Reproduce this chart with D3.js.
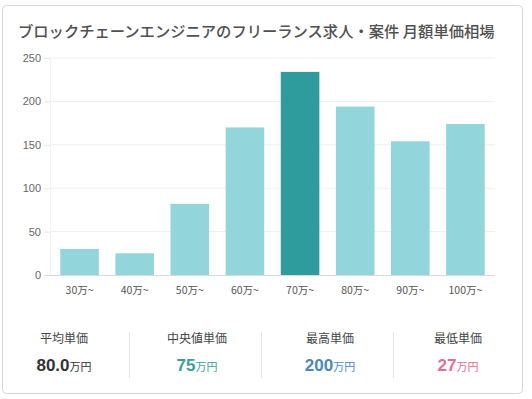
<!DOCTYPE html>
<html>
<head>
<meta charset="utf-8">
<script src="https://cdn.jsdelivr.net/npm/d3@7"></script>
<style>
  body { margin: 0; background: #fff; }
  text { font-family: "Noto Sans CJK JP", "Noto Sans", sans-serif; }
</style>
</head>
<body>
<div id="chart"></div>
<script>
var title = "ブロックチェーンエンジニアのフリーランス求人・案件 月額単価相場";
var categories = ["30万~", "40万~", "50万~", "60万~", "70万~", "80万~", "90万~", "100万~"];
var counts = [30, 25, 82, 170, 234, 194, 154, 174];
var highlight = "70万~";
var yTicks = [0, 50, 100, 150, 200, 250];

var statLabels = ["平均単価", "中央値単価", "最高単価", "最低単価"];
var statValues = ["80.0", "75", "200", "27"];
var statColors = ["#333333", "#3a9e98", "#4a88c2", "#e46d93"];

var width = 532, height = 399;
var svg = d3.select("#chart").append("svg")
  .attr("width", width).attr("height", height);

// card
svg.append("rect")
  .attr("x", 2.5).attr("y", 5.5)
  .attr("width", 520).attr("height", 388)
  .attr("rx", 4)
  .attr("fill", "#fff")
  .attr("stroke", "#d6d6d6");

svg.append("text")
  .attr("x", 18).attr("y", 37)
  .attr("font-size", 15.3)
  .attr("font-weight", 500)
  .attr("fill", "#505050")
  .text(title);

var x = d3.scaleBand().domain(categories).range([52, 493]).paddingInner(0.3).paddingOuter(0.15);
var y = d3.scaleLinear().domain([0, 250]).range([275, 58]);

// grid
svg.append("g").selectAll("line.grid")
  .data(yTicks.slice(1))
  .enter().append("line")
  .attr("class", "grid")
  .attr("x1", 50).attr("x2", 495)
  .attr("y1", function(d) { return y(d); })
  .attr("y2", function(d) { return y(d); })
  .attr("stroke", "#f2eeee").attr("stroke-width", 1);

svg.append("line")
  .attr("x1", 50.5).attr("x2", 50.5).attr("y1", 58).attr("y2", 275)
  .attr("stroke", "#f4f1f1");

var yAxis = svg.append("g")
  .attr("transform", "translate(50,0)")
  .call(d3.axisLeft(y).tickValues(yTicks).tickSize(6).tickPadding(3));
yAxis.select(".domain").remove();
yAxis.selectAll("line").attr("stroke", "#e6e6e6");
yAxis.selectAll("text").attr("font-size", 11).attr("fill", "#666")
  .style("font-family", "'Liberation Sans', Arial, sans-serif");

svg.selectAll("rect.bar")
  .data(categories)
  .enter().append("rect")
  .attr("class", "bar")
  .attr("x", function(d) { return x(d); })
  .attr("width", x.bandwidth())
  .attr("y", function(d, i) { return y(counts[i]); })
  .attr("height", function(d, i) { return y(0) - y(counts[i]); })
  .attr("fill", function(d) { return d == highlight ? "#2e9c9c" : "#92d5da"; });

// baseline
svg.append("line")
  .attr("x1", 44).attr("x2", 495).attr("y1", 275.5).attr("y2", 275.5)
  .attr("stroke", "#d9d9d9");

var xAxis = svg.append("g")
  .attr("transform", "translate(0,275)")
  .call(d3.axisBottom(x).tickSize(0).tickPadding(12));
xAxis.select(".domain").remove();
xAxis.selectAll("text").attr("font-size", 10.5).attr("fill", "#555");

// stats
var colW = 133;
var stats = svg.append("g").selectAll("g.stat")
  .data(statLabels)
  .enter().append("g")
  .attr("class", "stat")
  .attr("transform", function(d, i) { return "translate(" + (64 + i * colW - (i == 3 ? 5 : 0)) + ",0)"; });

stats.append("text")
  .attr("y", 343)
  .attr("text-anchor", "middle")
  .attr("font-size", 12)
  .attr("fill", "#444")
  .text(function(d) { return d; });

var val = stats.append("text")
  .attr("y", 371)
  .attr("text-anchor", "middle")
  .attr("fill", function(d, i) { return statColors[i]; });
val.append("tspan")
  .attr("font-size", 17).attr("font-weight", "bold")
  .style("font-family", "'Liberation Sans', Arial, sans-serif")
  .text(function(d, i) { return statValues[i]; });
val.append("tspan")
  .attr("font-size", 11)
  .text("万円");

svg.append("g").selectAll("line.div")
  .data([129, 261, 393])
  .enter().append("line")
  .attr("x1", function(d) { return d + 0.5; })
  .attr("x2", function(d) { return d + 0.5; })
  .attr("y1", 332).attr("y2", 378)
  .attr("stroke", "#e4e4e4");
</script>
</body>
</html>
